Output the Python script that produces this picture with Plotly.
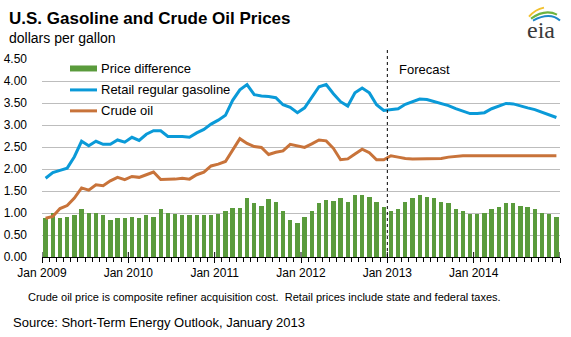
import plotly.graph_objects as go

# ---- data (monthly, Jan 2009 - Dec 2014; from Jan 2013 on it is forecast) ----
month_names = ["Jan", "Feb", "Mar", "Apr", "May", "Jun",
               "Jul", "Aug", "Sep", "Oct", "Nov", "Dec"]
months = [f"{m} {y}" for y in range(2009, 2015) for m in month_names]

gasoline = [1.79, 1.92, 1.97, 2.02, 2.28, 2.63, 2.53, 2.63, 2.56, 2.56, 2.66, 2.61,
            2.72, 2.65, 2.79, 2.87, 2.87, 2.74, 2.74, 2.74, 2.72, 2.82, 2.90, 3.02,
            3.11, 3.22, 3.56, 3.80, 3.92, 3.69, 3.66, 3.65, 3.62, 3.46, 3.40, 3.28,
            3.39, 3.62, 3.87, 3.92, 3.71, 3.53, 3.43, 3.73, 3.84, 3.73, 3.46, 3.33,
            3.35, 3.37, 3.47, 3.53, 3.59, 3.58, 3.53, 3.49, 3.44, 3.37, 3.32, 3.26,
            3.26, 3.28, 3.37, 3.43, 3.49, 3.48, 3.43, 3.39, 3.35, 3.29, 3.23, 3.17]

crude = [0.88, 0.92, 1.10, 1.17, 1.34, 1.57, 1.52, 1.64, 1.62, 1.73, 1.81, 1.76,
         1.83, 1.81, 1.87, 1.93, 1.76, 1.76, 1.77, 1.79, 1.77, 1.87, 1.93, 2.07,
         2.11, 2.17, 2.43, 2.69, 2.58, 2.51, 2.49, 2.33, 2.38, 2.41, 2.56, 2.52,
         2.49, 2.57, 2.66, 2.64, 2.47, 2.21, 2.23, 2.34, 2.45, 2.37, 2.21, 2.21,
         2.30, 2.27, 2.24, 2.23, 2.23, 2.23, 2.23, 2.24, 2.27, 2.29, 2.30, 2.30,
         2.30, 2.30, 2.30, 2.30, 2.30, 2.30, 2.30, 2.30, 2.30, 2.30, 2.30, 2.30]

price_difference = [0.89, 1.01, 0.88, 0.90, 0.95, 1.08, 1.01, 1.01, 0.95, 0.83, 0.88, 0.88,
                    0.92, 0.88, 0.95, 0.92, 1.10, 1.01, 0.98, 0.96, 0.95, 0.95, 0.95, 0.95,
                    0.98, 1.05, 1.12, 1.12, 1.34, 1.22, 1.17, 1.32, 1.25, 1.05, 0.83, 0.77,
                    0.90, 1.04, 1.22, 1.30, 1.28, 1.34, 1.24, 1.40, 1.42, 1.37, 1.26, 1.13,
                    1.05, 1.10, 1.24, 1.33, 1.40, 1.37, 1.33, 1.26, 1.22, 1.08, 1.04, 0.98,
                    0.98, 1.00, 1.08, 1.13, 1.22, 1.22, 1.15, 1.13, 1.08, 1.01, 0.98, 0.90]

tick_labels = ["Jan 2009", "Jan 2010", "Jan 2011", "Jan 2012", "Jan 2013", "Jan 2014"]
forecast_start = "Jan 2013"

series_names = ["Price difference", "Retail regular gasoline", "Crude oil"]

# ---- styling ----
GREEN = "#5A9B3C"
BLUE = "#0A9AD8"
ORANGE = "#C8733A"
FONT = "Liberation Sans, Arial, sans-serif"

W, H = 571, 337
L, R, T, B = 42, 11, 58.5, 80
PW, PH = W - L - R, H - T - B


def px(x):
    """pixel x -> paper x"""
    return (x - L) / PW


def py(y):
    """pixel y -> paper y"""
    return (H - B - y) / PH


# each month occupies one unit; marks sit in the middle of their month
xpos = [i + 0.5 for i in range(len(months))]
n = len(months)
tickvals = [months.index(t) for t in tick_labels] + [n]
ticktext = tick_labels + [""]
fc = months.index(forecast_start)

fig = go.Figure()
fig.add_trace(go.Bar(x=xpos, y=price_difference, width=0.6,
                     marker=dict(color=GREEN, line=dict(width=0)),
                     name=series_names[0]))
fig.add_trace(go.Scatter(x=xpos, y=gasoline, mode="lines",
                         line=dict(color=BLUE, width=3), name=series_names[1]))
fig.add_trace(go.Scatter(x=xpos, y=crude, mode="lines",
                         line=dict(color=ORANGE, width=3), name=series_names[2]))

shapes = []
# year ticks that also cross above the axis line
for tv in tickvals:
    shapes.append(dict(type="line", xref="x", yref="paper", x0=tv, x1=tv,
                       y0=0, y1=py(H - B - 5), line=dict(color="black", width=1)))
# forecast divider
shapes.append(dict(type="line", xref="x", yref="paper", x0=fc, x1=fc,
                   y0=0, y1=py(49), line=dict(color="black", width=1, dash="3px,3px")))

# legend swatches
leg_rows = [68, 89.5, 110.5]
shapes.append(dict(type="rect", xref="paper", yref="paper",
                   x0=px(70), x1=px(97), y0=py(leg_rows[0] + 3), y1=py(leg_rows[0] - 3),
                   fillcolor=GREEN, line=dict(width=0)))
for yy, col in zip(leg_rows[1:], [BLUE, ORANGE]):
    shapes.append(dict(type="line", xref="paper", yref="paper",
                       x0=px(70), x1=px(97), y0=py(yy), y1=py(yy),
                       line=dict(color=col, width=3)))

# eia logo arcs
for col, pth in [("#F2C12E", [(529, 16), (535, 9), (544, 7)]),
                 ("#6DB33F", [(531, 18), (545, 8), (557, 14)]),
                 ("#1E88C8", [(533, 20), (550, 11), (560, 20)])]:
    (x0, y0), (xc, yc), (x1, y1) = pth
    shapes.append(dict(type="path", xref="paper", yref="paper",
                       path=f"M {px(x0)},{py(y0)} Q {px(xc)},{py(yc)} {px(x1)},{py(y1)}",
                       line=dict(color=col, width=2)))

annotations = [
    dict(text="<b>U.S. Gasoline and Crude Oil Prices</b>", x=px(7), y=py(17.5),
         font=dict(size=17, color="black")),
    dict(text="dollars per gallon", x=px(7), y=py(37.5), font=dict(size=14, color="black")),
    dict(text="Crude oil price is composite refiner acquisition cost.\u00a0 Retail prices include state and federal taxes.",
         x=px(264), y=py(297.5), xanchor="center", font=dict(size=11, color="black")),
    dict(text="Source: Short-Term Energy Outlook, January 2013", x=px(11), y=py(323),
         font=dict(size=13, color="black")),
    dict(text="Forecast", x=px(397), y=py(69), font=dict(size=13, color="black")),
    dict(text="eia", x=px(541), y=py(29), xanchor="center",
         font=dict(size=24, color="#3A3A3A", family="Liberation Serif, Times New Roman, serif")),
]
for name, yy in zip(series_names, leg_rows):
    annotations.append(dict(text=name, x=px(99), y=py(yy), font=dict(size=13, color="black")))

for a in annotations:
    a.setdefault("xanchor", "left")
    a.update(xref="paper", yref="paper", yanchor="middle", showarrow=False)

fig.update_layout(
    width=W, height=H,
    margin=dict(l=L, r=R, t=T, b=B, pad=0, autoexpand=False),
    paper_bgcolor="white", plot_bgcolor="white",
    font=dict(family=FONT, size=12, color="black"),
    showlegend=False,
    bargap=0,
    shapes=shapes,
    annotations=annotations,
    xaxis=dict(range=[0, n], tickmode="array", tickvals=tickvals, ticktext=ticktext,
               ticks="outside", ticklen=5, tickcolor="black", tickwidth=1,
               showline=True, linecolor="black", linewidth=1, automargin=False,
               showgrid=False, zeroline=False, tickfont=dict(size=12),
               minor=dict(tickmode="linear", tick0=0, dtick=1, ticks="outside",
                          ticklen=4, tickcolor="black", tickwidth=1, showgrid=False)),
    yaxis=dict(range=[0, 4.5], tickmode="linear", tick0=0, dtick=0.5, tickformat=".2f",
               showgrid=True, gridcolor="#BDBDBD", gridwidth=1, automargin=False,
               showline=False, zeroline=False, ticks="", ticklabelstandoff=14,
               tickfont=dict(size=12)),
)

fig.write_html("out.html")
